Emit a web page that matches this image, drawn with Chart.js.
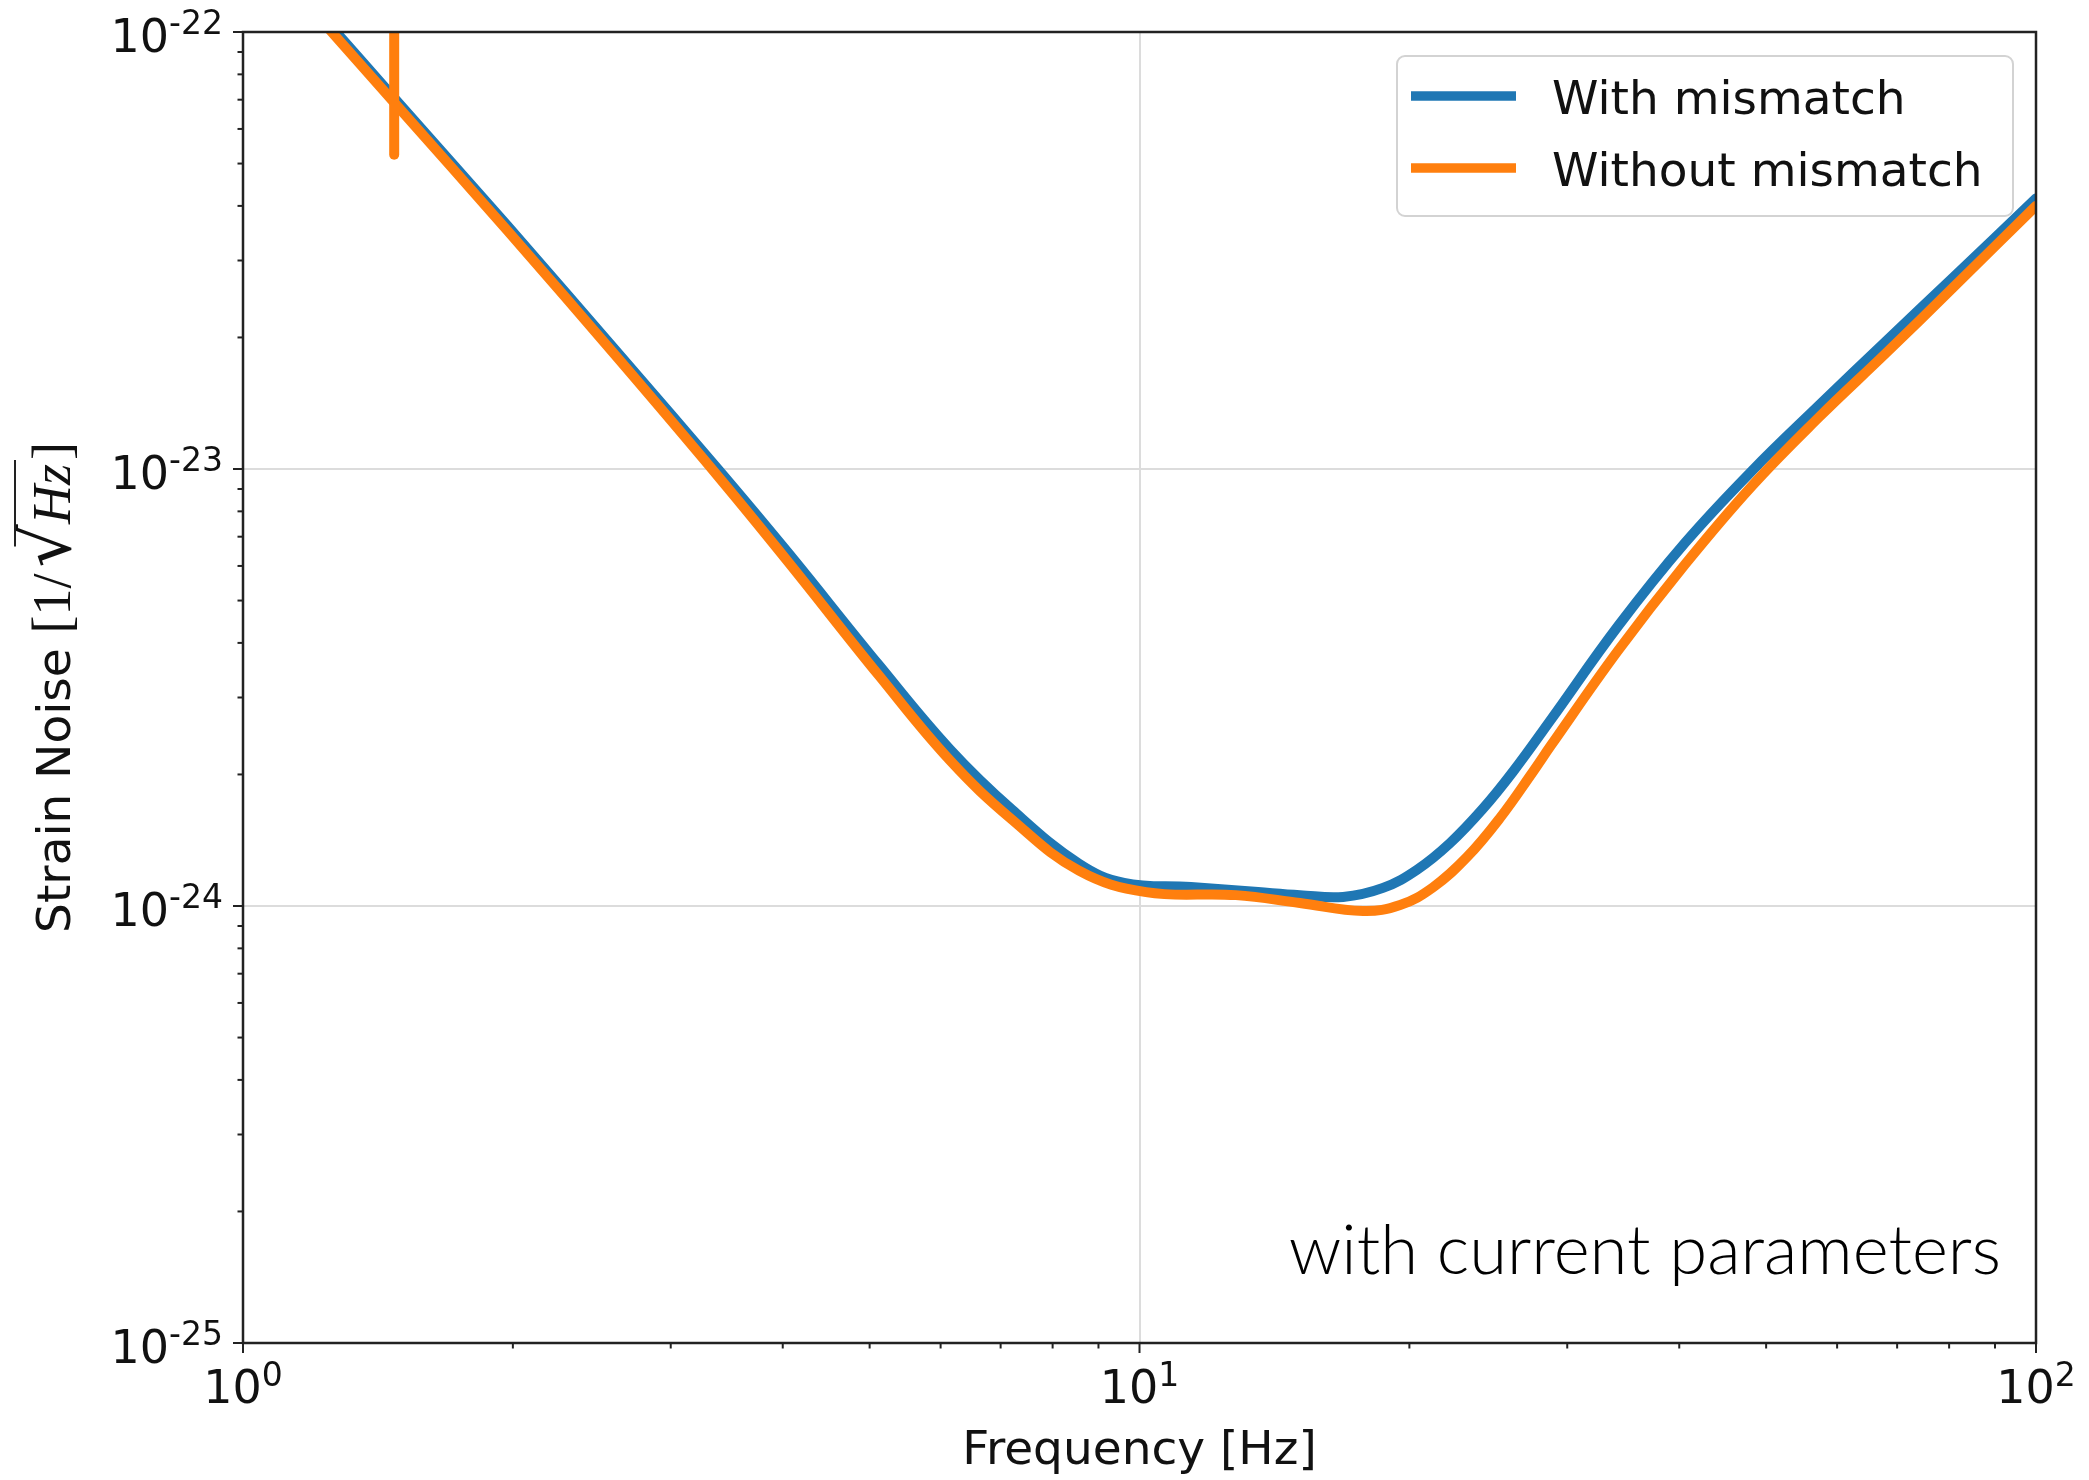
<!DOCTYPE html>
<html>
<head>
<meta charset="utf-8">
<title>Strain noise</title>
<script src="https://cdn.jsdelivr.net/npm/chart.js@4.4.1/dist/chart.umd.min.js"></script>
<style>
  html, body { margin: 0; padding: 0; background: #fff; }
  #wrap { width: 2089px; height: 1480px; position: relative; }
</style>
</head>
<body>
<div id="wrap"><canvas id="noise"></canvas></div>
<script>
// values: frequency [Hz] and strain noise [1/sqrt(Hz)]
const freqWith = [1.2, 1.27, 1.474, 1.975, 2.627, 3.42, 4.064, 5.12, 6.15, 7.21, 8.56, 9.61,
  11.41, 13.56, 15.1, 16.87, 18.69, 20.39, 22.2, 24.16, 26.1, 28.77, 34.18, 40.6, 48.2,
  57.3, 68.0, 80.8, 100];
const strainWith = [1.14e-22, 1.0e-22, 7.07e-23, 3.59e-23, 1.83e-23, 9.77e-24, 6.4e-24, 3.56e-24,
  2.28e-24, 1.66e-24, 1.25e-24, 1.13e-24, 1.105e-24, 1.076e-24, 1.059e-24, 1.049e-24, 1.1e-24,
  1.21e-24, 1.393e-24, 1.67e-24, 2.03e-24, 2.67e-24, 4.37e-24, 6.78e-24, 9.9e-24, 1.4e-23,
  1.96e-23, 2.74e-23, 4.16e-23];

const freqWithout = [1.2, 1.27, 1.474, 1.975, 2.627, 3.42, 4.064, 5.12, 6.15, 7.21, 8.56, 10.17,
  12.81, 15.1, 17.76, 19.53, 21.26, 23.19, 25.24, 27.48, 28.77, 34.18, 40.6, 48.2, 57.3, 68.0,
  80.8, 100];
const strainWithout = [1.11e-22, 9.75e-23, 6.9e-23, 3.5e-23, 1.78e-23, 9.4e-24, 6.1e-24, 3.37e-24,
  2.15e-24, 1.575e-24, 1.205e-24, 1.076e-24, 1.059e-24, 1.016e-24, 9.74e-25, 1.005e-24, 1.104e-24,
  1.294e-24, 1.59e-24, 2.03e-24, 2.33e-24, 3.84e-24, 6.05e-24, 9.14e-24, 1.315e-23, 1.84e-23,
  2.6e-23, 4.0e-23];

// narrow line in the "without" curve near 1.47 Hz (runs off the top)
const spikeFreq = [1.4745, 1.4745];
const spikeStrain = [5.24e-23, 3e-22];

const xMajor = [1, 10, 100];
const xExponents = ['0', '1', '2'];
const yMajor = [1e-25, 1e-24, 1e-23, 1e-22];
const yExponents = ['-25', '-24', '-23', '-22'];
const minorSteps = [2, 3, 4, 5, 6, 7, 8, 9];

const seriesLabels = ['With mismatch', 'Without mismatch'];
const blue = '#1f77b4';
const orange = '#ff7f0e';

const toPoints = (xs, ys) => xs.map((x, i) => ({x: x, y: ys[i]}));

const SANS = '"DejaVu Sans", sans-serif';
const SERIF = '"Liberation Serif", serif';

function powerLabel(ctx, exp, x, y, align) {
  ctx.font = '46px ' + SANS;
  const wb = ctx.measureText('10').width;
  ctx.font = '33px ' + SANS;
  const we = ctx.measureText(exp).width;
  const x0 = align === 'center' ? x - (wb + we) / 2 : x - (wb + we);
  ctx.font = '46px ' + SANS;
  ctx.fillText('10', x0, y);
  ctx.font = '33px ' + SANS;
  ctx.fillText(exp, x0 + wb, y - 17.5);
}

function drawYTitle(ctx, cx, cy) {
  ctx.save();
  ctx.translate(cx, cy);
  ctx.rotate(-Math.PI / 2);
  const parts = [
    {t: 'Strain Noise ', f: '47px ' + SANS},
    {t: '[1/', f: '54px ' + SERIF, gap: 6},
    {t: '\u221A', f: '68px "DejaVu Serif", serif', root: true},
    {t: 'Hz', f: 'italic 54px ' + SERIF, over: true, gap: 4},
    {t: ']', f: '54px ' + SERIF}
  ];
  let total = 0;
  parts.forEach(p => {
    ctx.font = p.f; p.m = ctx.measureText(p.t); p.w = p.m.width + (p.gap || 0); total += p.w;
  });
  let u = -total / 2;
  let barStart = 0, barTop = 0;
  ctx.textAlign = 'left';
  ctx.textBaseline = 'alphabetic';
  parts.forEach(p => {
    ctx.font = p.f;
    ctx.fillText(p.t, u, 0);
    if (p.root) { barStart = u + p.m.actualBoundingBoxRight - 1.5; barTop = -p.m.actualBoundingBoxAscent + 1; }
    if (p.over) {
      ctx.lineWidth = 2;
      ctx.beginPath();
      ctx.moveTo(barStart, barTop);
      ctx.lineTo(u + p.w, barTop);
      ctx.stroke();
    }
    u += p.w;
  });
  ctx.restore();
}

const decorations = {
  id: 'decorations',
  afterDatasetsDraw(chart) {
    const {ctx, chartArea: a, scales: {x, y}} = chart;
    ctx.save();
    ctx.fillStyle = '#111';
    ctx.strokeStyle = '#222';

    // frame
    ctx.lineWidth = 2.5;
    ctx.strokeRect(a.left, a.top, a.right - a.left, a.bottom - a.top);

    // tick marks
    ctx.lineWidth = 2;
    const seg = (x1, y1, x2, y2) => { ctx.beginPath(); ctx.moveTo(x1, y1); ctx.lineTo(x2, y2); ctx.stroke(); };
    xMajor.forEach(v => { const p = x.getPixelForValue(v); seg(p, a.bottom, p, a.bottom + 10); });
    xMajor.slice(0, -1).forEach(d => minorSteps.forEach(m => {
      const p = x.getPixelForValue(d * m); seg(p, a.bottom, p, a.bottom + 5.5);
    }));
    yMajor.forEach(v => { const p = y.getPixelForValue(v); seg(a.left - 10, p, a.left, p); });
    yMajor.slice(0, -1).forEach(d => minorSteps.forEach(m => {
      const p = y.getPixelForValue(d * m); seg(a.left - 5.5, p, a.left, p);
    }));

    // tick labels
    ctx.textAlign = 'left';
    ctx.textBaseline = 'alphabetic';
    xMajor.forEach((v, i) => powerLabel(ctx, xExponents[i], x.getPixelForValue(v), a.bottom + 60, 'center'));
    yMajor.forEach((v, i) => powerLabel(ctx, yExponents[i], a.left - 20, y.getPixelForValue(v) + 19.7, 'right'));

    // axis titles
    ctx.font = '47px ' + SANS;
    ctx.textAlign = 'center';
    ctx.fillText('Frequency [Hz]', (a.left + a.right) / 2, a.bottom + 121);
    drawYTitle(ctx, 70, (a.top + a.bottom) / 2);

    // legend
    const lx = a.right - 639, ly = a.top + 24, lw = 616, lh = 160;
    ctx.beginPath();
    ctx.roundRect(lx, ly, lw, lh, 8);
    ctx.fillStyle = 'rgba(255,255,255,0.85)';
    ctx.fill();
    ctx.strokeStyle = '#d3d3d3';
    ctx.lineWidth = 2;
    ctx.stroke();
    const colors = [blue, orange];
    seriesLabels.forEach((lab, i) => {
      const yy = ly + 40 + i * 72;
      ctx.strokeStyle = colors[i];
      ctx.lineWidth = 9.5;
      ctx.lineCap = 'butt';
      seg(lx + 14, yy, lx + 119, yy);
      ctx.fillStyle = '#111';
      ctx.font = '47px ' + SANS;
      ctx.textAlign = 'left';
      ctx.fillText(lab, lx + 155, yy + 18);
    });

    // note in the lower right corner
    const note = 'with current parameters';
    ctx.font = '300 72px Lato, sans-serif';
    const size = 72 * 712 / ctx.measureText(note).width;
    ctx.font = '300 ' + size.toFixed(1) + 'px Lato, sans-serif';
    ctx.textAlign = 'right';
    ctx.fillStyle = '#000';
    ctx.fillText(note, a.right - 35, a.bottom - 69);
    ctx.restore();
  }
};

const majorGrid = {color: '#dcdcdc', lineWidth: 2, drawTicks: false};

new Chart(document.getElementById('noise').getContext('2d'), {
  type: 'line',
  data: {
    datasets: [
      {label: seriesLabels[0], data: toPoints(freqWith, strainWith), borderColor: blue, order: 3, clip: 0},
      {label: seriesLabels[1], data: toPoints(freqWithout, strainWithout), borderColor: orange, order: 2, clip: 0},
      {label: seriesLabels[1], data: toPoints(spikeFreq, spikeStrain), borderColor: orange, order: 1, clip: 0,
        tension: 0}
    ]
  },
  options: {
    responsive: true,
    maintainAspectRatio: false,
    animation: false,
    devicePixelRatio: 1,
    layout: {padding: {left: 243, right: 53, top: 32, bottom: 137}},
    elements: {
      line: {borderWidth: 10, tension: 0.4, borderCapStyle: 'round', borderJoinStyle: 'round', fill: false},
      point: {radius: 0}
    },
    scales: {
      x: {
        type: 'logarithmic', min: 1, max: 100,
        afterBuildTicks: s => { s.ticks = xMajor.map(v => ({value: v, major: true})); },
        ticks: {display: false}, grid: majorGrid, border: {display: false}
      },
      y: {
        type: 'logarithmic', min: 1e-25, max: 1e-22,
        afterBuildTicks: s => { s.ticks = yMajor.map(v => ({value: v, major: true})); },
        ticks: {display: false}, grid: majorGrid, border: {display: false}
      }
    },
    plugins: {legend: {display: false}, tooltip: {enabled: false}}
  },
  plugins: [decorations]
});
</script>
</body>
</html>
